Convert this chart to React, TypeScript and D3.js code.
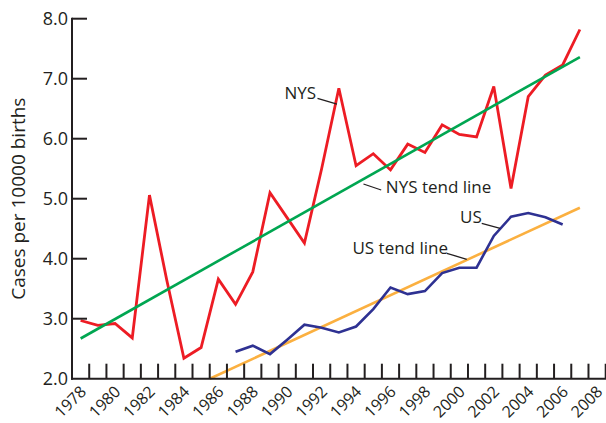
import React, { useEffect, useRef } from 'react';
import * as d3 from 'd3';

const WIDTH = 606;
const HEIGHT = 423;
const FONT = "'Open Sans', 'Noto Sans', sans-serif";
const INK = '#231f20';

// NYS cases per 10000 births, 1978-2007
const nysYears = [
  1978, 1979, 1980, 1981, 1982, 1983, 1984, 1985, 1986, 1987,
  1988, 1989, 1990, 1991, 1992, 1993, 1994, 1995, 1996, 1997,
  1998, 1999, 2000, 2001, 2002, 2003, 2004, 2005, 2006, 2007,
];
const nysValues = [
  2.97, 2.89, 2.92, 2.68, 5.06, 3.65, 2.34, 2.52, 3.66, 3.24,
  3.78, 5.1, 4.68, 4.26, 5.5, 6.84, 5.55, 5.75, 5.48, 5.91,
  5.77, 6.23, 6.07, 6.03, 6.87, 5.17, 6.7, 7.06, 7.23, 7.82,
];

// US cases per 10000 births, 1987-2006
const usYears = [
  1987, 1988, 1989, 1990, 1991, 1992, 1993, 1994, 1995, 1996,
  1997, 1998, 1999, 2000, 2001, 2002, 2003, 2004, 2005, 2006,
];
const usValues = [
  2.45, 2.55, 2.41, 2.65, 2.9, 2.85, 2.77, 2.87, 3.16, 3.52,
  3.41, 3.46, 3.76, 3.85, 3.85, 4.38, 4.7, 4.76, 4.69, 4.57,
];

// trend lines (end points)
const nysTrend = [
  { year: 1978, value: 2.67 },
  { year: 2007, value: 7.36 },
];
const usTrend = [
  { year: 1985.5, value: 2.0 },
  { year: 2007, value: 4.85 },
];

const xTickLabels = [
  1978, 1980, 1982, 1984, 1986, 1988, 1990, 1992,
  1994, 1996, 1998, 2000, 2002, 2004, 2006, 2008,
];
const yTickValues = [2, 3, 4, 5, 6, 7, 8];

// labels with leader lines, in data units
const annotations = [
  { text: 'NYS', year: 1991.68, value: 6.67, anchor: 'end', line: [[1991.76, 6.673], [1992.89, 6.578]] },
  { text: 'NYS tend line', year: 1995.73, value: 5.09, anchor: 'start', line: [[1994.43, 5.245], [1995.46, 5.145]] },
  { text: 'US', year: 2000.04, value: 4.59, anchor: 'start', line: [[2001.3, 4.59], [2002.37, 4.507]] },
  { text: 'US tend line', year: 1993.79, value: 4.08, anchor: 'start', line: [[1999.27, 4.09], [2000.43, 3.99]] },
];

type Pt = { year: number; value: number };

const App: React.FC = () => {
  const svgRef = useRef<SVGSVGElement>(null);

  useEffect(() => {
    const svg = d3.select(svgRef.current);
    svg.selectAll('*').remove();

    const x = d3.scaleLinear().domain([1977.5, 2008.5]).range([72, 605.7]);
    const y = d3.scaleLinear().domain([2, 8]).range([378.7, 18.7]);

    const line = d3.line<Pt>()
      .x(d => x(d.year))
      .y(d => y(d.value));

    const nysData: Pt[] = nysYears.map((yr, i) => ({ year: yr, value: nysValues[i] }));
    const usData: Pt[] = usYears.map((yr, i) => ({ year: yr, value: usValues[i] }));

    // series
    svg.append('path')
      .datum(usTrend)
      .attr('fill', 'none')
      .attr('stroke', '#fbb040')
      .attr('stroke-width', 2.6)
      .attr('d', line);

    svg.append('path')
      .datum(usData)
      .attr('fill', 'none')
      .attr('stroke', '#2e3192')
      .attr('stroke-width', 2.6)
      .attr('stroke-linejoin', 'miter')
      .attr('d', line);

    svg.append('path')
      .datum(nysData)
      .attr('fill', 'none')
      .attr('stroke', '#ed1c24')
      .attr('stroke-width', 2.8)
      .attr('stroke-linejoin', 'miter')
      .attr('d', line);

    svg.append('path')
      .datum(nysTrend)
      .attr('fill', 'none')
      .attr('stroke', '#00a651')
      .attr('stroke-width', 2.6)
      .attr('d', line);

    // axes
    const axis = svg.append('g').attr('stroke', INK).attr('stroke-width', 2);
    const y0 = y(2);

    axis.append('line')
      .attr('x1', x(1977.5)).attr('x2', x(1977.5))
      .attr('y1', y(8) - 1).attr('y2', y0 + 1);
    axis.append('line')
      .attr('x1', x(1977.5) - 1).attr('x2', WIDTH)
      .attr('y1', y0).attr('y2', y0);

    // y ticks point into the plot
    axis.selectAll('.ytick')
      .data(yTickValues.slice(1))
      .enter().append('line')
      .attr('x1', x(1977.5)).attr('x2', x(1977.5) + 15)
      .attr('y1', d => y(d)).attr('y2', d => y(d));

    // x ticks sit between years
    const xBounds = d3.range(1978.5, 2009, 1);
    axis.selectAll('.xtick')
      .data(xBounds)
      .enter().append('line')
      .attr('x1', d => x(d)).attr('x2', d => x(d))
      .attr('y1', y0).attr('y2', y0 - 15);

    svg.selectAll('.ylabel')
      .data(yTickValues)
      .enter().append('text')
      .attr('x', 68)
      .attr('y', d => y(d))
      .attr('dy', '0.36em')
      .attr('text-anchor', 'end')
      .style('font-family', FONT)
      .style('font-size', '18px')
      .style('fill', INK)
      .text(d => d3.format('.1f')(d));

    svg.selectAll('.xlabel')
      .data(xTickLabels)
      .enter().append('text')
      .attr('text-anchor', 'end')
      .attr('transform', d => `translate(${x(d) + 6.5},${y0 + 14}) rotate(-45)`)
      .style('font-family', FONT)
      .style('font-size', '16px')
      .style('fill', INK)
      .text(d => d);

    svg.append('text')
      .attr('transform', `translate(25,${(y(8) + y0) / 2}) rotate(-90)`)
      .attr('text-anchor', 'middle')
      .style('font-family', FONT)
      .style('font-size', '19px')
      .style('fill', INK)
      .text('Cases per 10000 births');

    // annotations
    const ann = svg.selectAll('.ann')
      .data(annotations)
      .enter().append('g');

    ann.append('text')
      .attr('x', d => x(d.year))
      .attr('y', d => y(d.value))
      .attr('text-anchor', d => d.anchor)
      .style('font-family', FONT)
      .style('font-size', '17px')
      .style('fill', INK)
      .text(d => d.text);

    ann.append('line')
      .attr('x1', d => x(d.line[0][0]))
      .attr('y1', d => y(d.line[0][1]))
      .attr('x2', d => x(d.line[1][0]))
      .attr('y2', d => y(d.line[1][1]))
      .attr('stroke', INK)
      .attr('stroke-width', 1.3);
  }, []);

  return (
    <svg
      ref={svgRef}
      width={WIDTH}
      height={HEIGHT}
      style={{ position: 'absolute', left: 0, top: 0, background: '#fff' }}
    />
  );
};

export default App;
